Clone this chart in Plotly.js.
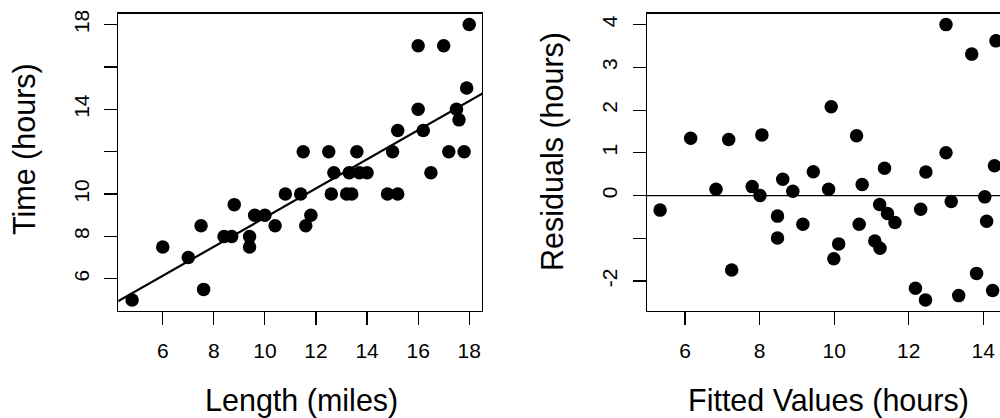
<!DOCTYPE html>
<html>
<head>
<meta charset="utf-8">
<script src="https://cdn.plot.ly/plotly-3.0.1.min.js"></script>
<style>
  html, body { margin: 0; padding: 0; background: #fff; overflow: hidden; }
  #chart { width: 1100px; height: 418px; }
</style>
</head>
<body>
<div id="chart"></div>
<script>
// ---- Left panel: observed data ----
var lengthMiles = [4.8, 6.0, 7.0, 7.5, 7.6, 8.4, 8.7, 8.8, 9.4, 9.4, 9.6, 10.0, 10.4, 10.8,
  11.4, 11.5, 11.6, 11.8, 12.5, 12.6, 12.7, 13.2, 13.4, 13.3, 13.6, 13.7, 14.0, 14.8,
  15.2, 15.0, 15.2, 16.0, 16.2, 16.5, 16.0, 17.0, 18.0, 17.9, 17.5, 17.6, 17.2, 17.8];
var timeHours = [5, 7.5, 7, 8.5, 5.5, 8, 8, 9.5, 8, 7.5, 9, 9, 8.5, 10,
  10, 12, 8.5, 9, 12, 10, 11, 10, 10, 11, 12, 11, 11, 10,
  10, 12, 13, 14, 13, 11, 17, 17, 18, 15, 14, 13.5, 12, 12];

// ---- Right panel: fitted values and residuals ----
var fittedHours = [5.33, 6.15, 6.83, 7.17, 7.25, 7.80, 8.01, 8.06, 8.48, 8.48, 8.62, 8.89, 9.16, 9.44,
  9.85, 9.92, 9.99, 10.12, 10.60, 10.67, 10.75, 11.09, 11.22, 11.23, 11.35, 11.43, 11.63, 12.18,
  12.32, 12.45, 12.46, 13.00, 13.00, 13.14, 13.34, 13.69, 13.82, 14.04, 14.09, 14.25, 14.30, 14.34];
var residualHours = [-0.34, 1.34, 0.15, 1.31, -1.74, 0.21, 0.00, 1.42, -0.48, -0.99, 0.38, 0.10, -0.67, 0.56,
  0.15, 2.08, -1.48, -1.13, 1.40, -0.67, 0.26, -1.06, -0.21, -1.23, 0.64, -0.42, -0.63, -2.17,
  -0.32, -2.44, 0.55, 4.00, 1.00, -0.14, -2.34, 3.31, -1.82, -0.03, -0.60, -2.22, 0.70, 3.62];

// tick labels
var leftXTicks = [6, 8, 10, 12, 14, 16, 18];
var leftYTicks = [6, 8, 10, 12, 14, 16, 18];
var leftYText = ['6', '8', '10', '', '14', '', '18'];
var rightXTicks = [6, 8, 10, 12, 14];
var rightYTicks = [-2, -1, 0, 1, 2, 3, 4];
var rightYText = ['-2', '', '0', '1', '2', '3', '4'];

// least-squares fit of time on length
function lsFit(x, y) {
  var n = x.length, mx = 0, my = 0;
  for (var i = 0; i < n; i++) { mx += x[i]; my += y[i]; }
  mx /= n; my /= n;
  var sxy = 0, sxx = 0;
  for (var j = 0; j < n; j++) { sxy += (x[j] - mx) * (y[j] - my); sxx += (x[j] - mx) * (x[j] - mx); }
  var b = sxy / sxx;
  return { a: my - b * mx, b: b };
}
var fit = lsFit(lengthMiles, timeHours);
var lineX = [0, 30];
var lineY = lineX.map(function (v) { return fit.a + fit.b * v; });

var W = 1100, H = 418;
var FONT = 'Liberation Sans, Arial, Helvetica, sans-serif';

var marker = { color: '#000', size: 13.5, line: { width: 0 } };

var traces = [
  { x: lengthMiles, y: timeHours, type: 'scatter', mode: 'markers', marker: marker,
    xaxis: 'x', yaxis: 'y', hoverinfo: 'x+y' },
  { x: lineX, y: lineY, type: 'scatter', mode: 'lines', line: { color: '#000', width: 2.2 },
    xaxis: 'x', yaxis: 'y', hoverinfo: 'skip' },
  { x: [0, 30], y: [0, 0], type: 'scatter', mode: 'lines', line: { color: '#000', width: 1.1 },
    xaxis: 'x2', yaxis: 'y2', hoverinfo: 'skip' },
  { x: fittedHours, y: residualHours, type: 'scatter', mode: 'markers', marker: marker,
    xaxis: 'x2', yaxis: 'y2', hoverinfo: 'x+y' }
];

function axisBase() {
  return {
    showgrid: false, zeroline: false, showline: true, mirror: true,
    linecolor: '#000', linewidth: 1.2,
    ticks: 'outside', ticklen: 13, tickwidth: 1.2, tickcolor: '#000',
    tickfont: { family: FONT, size: 21, color: '#000' },
    tickmode: 'array', fixedrange: true
  };
}

var yDom = [(H - 311) / H, (H - 13.5) / H];

var xa = Object.assign(axisBase(), { domain: [118.3 / W, 482 / W], range: [4.26, 18.5],
  tickvals: leftXTicks, ticktext: leftXTicks.map(String), anchor: 'y', ticklabelstandoff: 8 });
var ya = Object.assign(axisBase(), { domain: yDom, range: [4.48, 18.52],
  tickvals: leftYTicks, ticktext: leftYText, tickangle: -90, anchor: 'x', ticklabelstandoff: 7 });
var xa2 = Object.assign(axisBase(), { domain: [646.7 / W, 1010.5 / W], range: [4.97, 14.73],
  tickvals: rightXTicks, ticktext: rightXTicks.map(String), anchor: 'y2', ticklabelstandoff: 8 });
var ya2 = Object.assign(axisBase(), { domain: yDom, range: [-2.70, 4.26],
  tickvals: rightYTicks, ticktext: rightYText, tickangle: -90, anchor: 'x2', ticklabelstandoff: 7 });

function ann(text, px, py, angle) {
  return { text: text, xref: 'paper', yref: 'paper', x: px / W, y: (H - py) / H,
    xanchor: 'center', yanchor: 'middle', showarrow: false, textangle: angle || 0,
    font: { family: FONT, size: 30.5, color: '#000' } };
}

var layout = {
  width: W, height: H,
  margin: { l: 0, r: 0, t: 0, b: 0, pad: 0 },
  paper_bgcolor: '#fff', plot_bgcolor: '#fff',
  showlegend: false,
  font: { family: FONT, color: '#000' },
  xaxis: xa, yaxis: ya, xaxis2: xa2, yaxis2: ya2,
  annotations: [
    ann('Length (miles)', 301, 400),
    ann('Fitted Values (hours)', 828, 400),
    ann('Time (hours)', 24, 149, -90),
    ann('Residuals (hours)', 552, 152, -90)
  ]
};

Plotly.newPlot('chart', traces, layout, { displayModeBar: false, staticPlot: true });
</script>
</body>
</html>
